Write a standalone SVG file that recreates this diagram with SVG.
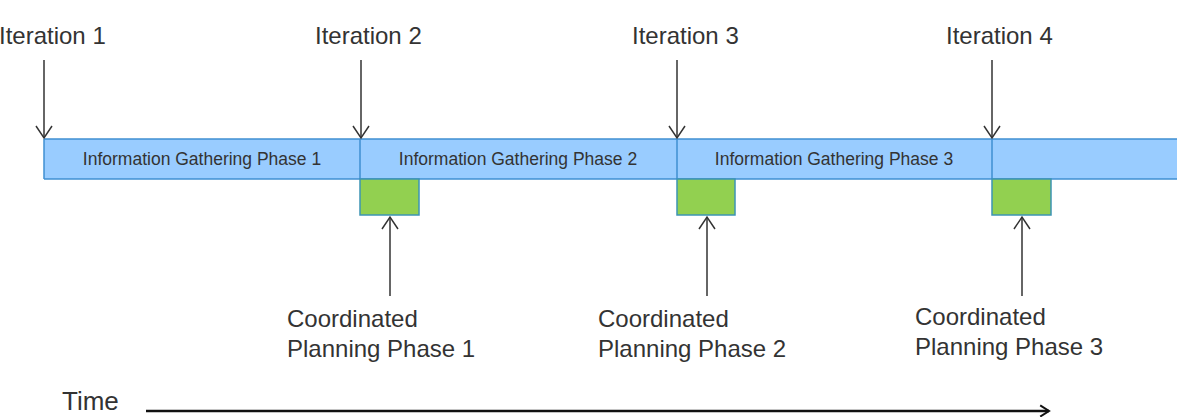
<svg xmlns="http://www.w3.org/2000/svg" width="1183" height="417" viewBox="0 0 1183 417">
<style>
.lbl{font-family:"Liberation Sans",Arial,sans-serif;font-size:24px;fill:#333}
.bt{font-family:"Liberation Sans",Arial,sans-serif;font-size:17.5px;fill:#333;text-anchor:middle}
.bl{stroke:#3F8FD2;stroke-width:1.5}
.cp{fill:#92D050;stroke:#3C94B4;stroke-width:1.5}
.arr{stroke:#333;stroke-width:1.5;fill:none}
</style>
<defs>
<marker id="ah" viewBox="0 0 20 20" refX="18" refY="10" markerWidth="20" markerHeight="20" markerUnits="userSpaceOnUse" orient="auto">
<path d="M6,2 L18,10 L6,18" fill="none" stroke="#333" stroke-width="1.5"/>
</marker>
<marker id="ahT" viewBox="0 0 20 20" refX="18" refY="10" markerWidth="16" markerHeight="16" markerUnits="userSpaceOnUse" orient="auto">
<path d="M7,3 L18,10 L7,17" fill="none" stroke="#111" stroke-width="2.5"/>
</marker>
</defs>
<g id="bar">
<rect x="44" y="139" width="1133" height="40" fill="#99CCFF"/>
<line class="bl" x1="44" y1="139" x2="1177" y2="139"/>
<line class="bl" x1="44" y1="179" x2="1177" y2="179"/>
<line class="bl" x1="44" y1="139" x2="44" y2="179"/>
<line class="bl" x1="360" y1="139" x2="360" y2="179"/>
<line class="bl" x1="677" y1="139" x2="677" y2="179"/>
<line class="bl" x1="992" y1="139" x2="992" y2="179"/>
</g>
<g id="igp1"><text class="bt" x="202" y="165">Information Gathering Phase 1</text></g>
<g id="igp2"><text class="bt" x="518" y="165">Information Gathering Phase 2</text></g>
<g id="igp3"><text class="bt" x="834" y="165">Information Gathering Phase 3</text></g>
<g id="cpp1"><rect class="cp" x="360" y="179" width="59" height="36"/><text class="lbl"><tspan x="287" y="327">Coordinated</tspan><tspan x="287" y="357">Planning Phase 1</tspan></text></g>
<g id="cpp2"><rect class="cp" x="677" y="179" width="58" height="36"/><text class="lbl"><tspan x="598" y="327">Coordinated</tspan><tspan x="598" y="357">Planning Phase 2</tspan></text></g>
<g id="cpp3"><rect class="cp" x="992" y="179" width="59" height="36"/><text class="lbl"><tspan x="915" y="325">Coordinated</tspan><tspan x="915" y="355">Planning Phase 3</tspan></text></g>
<g id="it1"><text class="lbl" x="-1" y="44">Iteration 1</text></g>
<g id="it2"><text class="lbl" x="315" y="44">Iteration 2</text></g>
<g id="it3"><text class="lbl" x="632" y="44">Iteration 3</text></g>
<g id="it4"><text class="lbl" x="946" y="44">Iteration 4</text></g>
<g id="time"><text class="lbl" x="62" y="410" style="font-size:26px">Time</text></g>
<g id="connectors">
<line class="arr" x1="44" y1="60" x2="44" y2="138" marker-end="url(#ah)"/>
<line class="arr" x1="361" y1="60" x2="361" y2="138" marker-end="url(#ah)"/>
<line class="arr" x1="677" y1="60" x2="677" y2="138" marker-end="url(#ah)"/>
<line class="arr" x1="992" y1="60" x2="992" y2="138" marker-end="url(#ah)"/>
<line class="arr" x1="390" y1="296" x2="390" y2="217" marker-end="url(#ah)"/>
<line class="arr" x1="707" y1="296" x2="707" y2="217" marker-end="url(#ah)"/>
<line class="arr" x1="1022" y1="296" x2="1022" y2="217" marker-end="url(#ah)"/>
<line x1="146" y1="411" x2="1049" y2="411" stroke="#111" stroke-width="2.5" marker-end="url(#ahT)"/>
</g>
</svg>
